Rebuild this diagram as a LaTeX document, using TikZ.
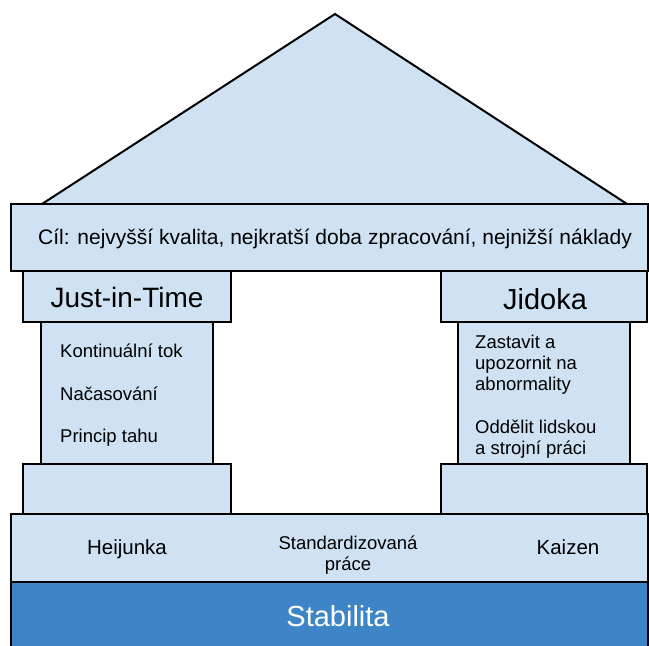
\documentclass[tikz,border=0pt]{standalone}
\usepackage{fontspec}
\setmainfont{Liberation Sans}
\definecolor{paleblue}{HTML}{CFE2F3}
\definecolor{deepblue}{HTML}{3D85C6}
\begin{document}
\begin{tikzpicture}[x=1pt,y=-1pt,
  part/.style={draw=black,line width=2pt,fill=paleblue},
  item/.style={inner sep=0pt,anchor=base west,font=\fontsize{18.5}{22}\selectfont},
  base/.style={inner sep=0pt,anchor=base,font=\fontsize{20.5}{24}\selectfont},
  big/.style={inner sep=0pt,anchor=base,font=\fontsize{29}{34}\selectfont}]
\useasboundingbox (0,0) rectangle (649,646);
\begin{scope}
\clip (0,0) rectangle (649,646);
% roof
\draw[part,line join=miter] (42,204) -- (335,14) -- (627,204) -- cycle;
% beam carrying the goal
\draw[part] (11,204) rectangle (648,271);
\node[inner sep=0pt,anchor=base,font=\fontsize{21}{25}\selectfont] (goal) at (335,244)
  {Cíl: nejvyšší kvalita, nejkratší doba zpracování, nejnižší náklady};
% left pillar
\draw[part] (23,271) rectangle (231,322);
\draw[part] (41,322) rectangle (213,464);
\draw[part] (23,464) rectangle (231,514);
\node[big,font=\fontsize{28}{32}\selectfont] (jit) at (127,307) {Just-in-Time};
\node[item] (k1) at (60,357) {Kontinuální tok};
\node[item] (k2) at (60,400) {Načasování};
\node[item] (k3) at (60,442) {Princip tahu};
% right pillar
\draw[part] (441,271) rectangle (647,322);
\draw[part] (458,322) rectangle (630,464);
\draw[part] (441,464) rectangle (647,514);
\node[big] (jid) at (545,309) {Jidoka};
\node[item] (j1) at (475,348) {Zastavit a};
\node[item] (j2) at (475,369) {upozornit na};
\node[item] (j3) at (475,390) {abnormality};
\node[item] (j4) at (475,433) {Oddělit lidskou};
\node[item] (j5) at (475,454) {a strojní práci};
% foundation
\draw[part] (11,514) rectangle (648,582);
\node[base] (hei) at (127,554) {Heijunka};
\node[base,font=\fontsize{18.5}{22}\selectfont] (std1) at (348,549) {Standardizovaná};
\node[base,font=\fontsize{18.5}{22}\selectfont] (std2) at (348,570) {práce};
\node[base] (kai) at (568,554) {Kaizen};
\draw[draw=black,line width=2pt,fill=deepblue] (11,582) rectangle (648,650);
\node[big,text=white] (stab) at (338,626) {Stabilita};
\end{scope}
\end{tikzpicture}
\end{document}
